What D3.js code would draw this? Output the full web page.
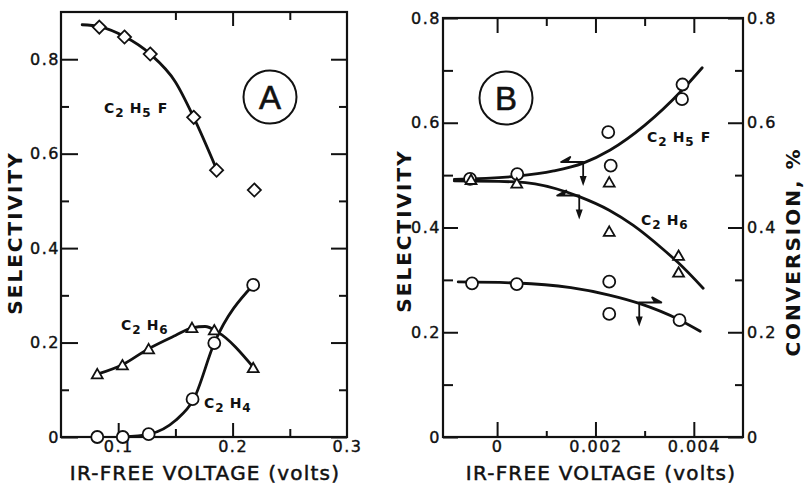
<!DOCTYPE html>
<html>
<head>
<meta charset="utf-8">
<script src="https://cdn.jsdelivr.net/npm/d3@7"></script>
<style>
  body { margin: 0; background: #fff; }
  svg { display: block; font-family: "DejaVu Sans", "Liberation Sans", sans-serif; }
  .axis path.domain { display: none; }
</style>
</head>
<body>
<svg id="chart" width="805" height="487"></svg>
<script>
// ---------- Panel A data (x = IR-free voltage, volts) ----------
const aFluoroX = [0.0835, 0.1055, 0.128, 0.166, 0.186, 0.219];
const aFluoroY = [0.868, 0.847, 0.811, 0.677, 0.565, 0.523];
const aEthaneX = [0.0817, 0.1037, 0.1266, 0.1645, 0.184, 0.218];
const aEthaneY = [0.133, 0.152, 0.186, 0.231, 0.226, 0.146];
const aEtheneX = [0.0817, 0.104, 0.1266, 0.165, 0.184, 0.218];
const aEtheneY = [0.0, 0.0, 0.006, 0.08, 0.199, 0.322];
// smooth fitted curves, as drawn on the figure
const aFluoroCurve = [[0.0685, 0.873], [0.0835, 0.869], [0.1055, 0.848], [0.128, 0.811], [0.150, 0.752], [0.166, 0.677], [0.186, 0.567]];
const aEthaneCurve = [[0.0817, 0.133], [0.1037, 0.153], [0.1266, 0.187], [0.150, 0.215], [0.1645, 0.231], [0.176, 0.234], [0.187, 0.222], [0.218, 0.148]];
const aEtheneCurve = [[0.104, 0.0], [0.127, 0.006], [0.150, 0.035], [0.166, 0.08], [0.184, 0.199], [0.218, 0.322]];

// ---------- Panel B data ----------
const bFluoroX = [-0.00055, 0.00041, 0.00226, 0.00231, 0.00377, 0.00376];
const bFluoroY = [0.493, 0.502, 0.582, 0.518, 0.673, 0.645];
const bEthaneX = [-0.00053, 0.0004, 0.00228, 0.00228, 0.00369, 0.00369];
const bEthaneY = [0.491, 0.484, 0.486, 0.392, 0.346, 0.314];
const bConvX = [-0.00051, 0.0004, 0.00228, 0.00228, 0.00371];
const bConvY = [0.2935, 0.292, 0.2966, 0.235, 0.223];
const bFluoroCurve = [[-0.00087, 0.492], [0.0004, 0.498], [0.00115, 0.508], [0.00175, 0.523], [0.0023, 0.548], [0.003, 0.595], [0.00376, 0.662], [0.00417, 0.705]];
const bEthaneCurve = [[-0.00087, 0.489], [0.0004, 0.487], [0.0012, 0.474], [0.00167, 0.459], [0.00228, 0.433], [0.00277, 0.404], [0.00338, 0.358], [0.00368, 0.333], [0.00419, 0.284]];
const bConvCurve = [[-0.00079, 0.296], [0.0004, 0.294], [0.0015, 0.285], [0.00228, 0.271], [0.00289, 0.255], [0.0037, 0.224], [0.00413, 0.202]];
// arrows that tell which axis a curve belongs to
const bArrows = [
  {x: 0.00175, y: 0.523, dir: 'left'},
  {x: 0.00167, y: 0.459, dir: 'left'},
  {x: 0.00289, y: 0.255, dir: 'right'}
];

// ---------- ticks ----------
const aYMajor = [0, 0.2, 0.4, 0.6, 0.8];
const aYMinor = [0.1, 0.3, 0.5, 0.7];
const aXMajor = [0.1, 0.2];
const aXMinor = [0.15, 0.25];
const aXLabels = [0.1, 0.2, 0.3];
const bYMajor = [0, 0.2, 0.4, 0.6, 0.8];
const bYMinor = [0.1, 0.3, 0.5, 0.7];
const bXMajor = [0, 0.002, 0.004];
const bXMinor = [0.001, 0.003];

const svg = d3.select('#chart');
const fmtY = d => d === 0 ? '0' : d3.format('.1f')(d);

// Panel frames
const A = {left: 61, right: 347, top: 12, bottom: 437};
const B = {left: 443, right: 743, top: 18, bottom: 437};

const xA = d3.scaleLinear().domain([0.05, 0.3]).range([A.left, A.right]);
const yA = d3.scaleLinear().domain([0, 0.9]).range([A.bottom, A.top]);
const xB = d3.scaleLinear().domain([-0.0011, 0.005]).range([B.left, B.right]);
const yB = d3.scaleLinear().domain([0, 0.8]).range([B.bottom, B.top]);

function addAxis(axis, tx, ty) {
  const g = svg.append('g').attr('class', 'axis')
    .attr('transform', `translate(${tx},${ty})`)
    .call(axis)
    .attr('font-family', 'DejaVu Sans, sans-serif')
    .attr('font-size', 16);
  g.selectAll('.tick line').attr('stroke', '#111').attr('stroke-width', 2);
  g.selectAll('.tick text').attr('fill', '#111').attr('stroke', '#111')
    .attr('stroke-width', 0.4).attr('letter-spacing', 1.5);
  return g;
}

// ----- Panel A axes -----
addAxis(d3.axisLeft(yA).tickValues(aYMajor).tickSize(-17).tickPadding(1).tickFormat(fmtY), A.left, 0);
addAxis(d3.axisLeft(yA).tickValues(aYMinor).tickSize(-8).tickFormat(''), A.left, 0);
addAxis(d3.axisRight(yA).tickValues(aYMajor).tickSize(-16).tickFormat(''), A.right, 0);
addAxis(d3.axisRight(yA).tickValues(aYMinor).tickSize(-8).tickFormat(''), A.right, 0);
addAxis(d3.axisBottom(xA).tickValues(aXMajor).tickSize(-14).tickFormat(''), 0, A.bottom);
addAxis(d3.axisBottom(xA).tickValues(aXMinor).tickSize(-8).tickFormat(''), 0, A.bottom);
addAxis(d3.axisBottom(xA).tickValues(aXLabels).tickSize(0).tickPadding(4).tickFormat(d3.format('.1f')), 0, A.bottom);
addAxis(d3.axisTop(xA).tickValues([0.2]).tickSize(-14).tickFormat(''), 0, A.top);
addAxis(d3.axisTop(xA).tickValues(aXMinor).tickSize(-8).tickFormat(''), 0, A.top);

// ----- Panel B axes -----
addAxis(d3.axisLeft(yB).tickValues(bYMajor).tickSize(-15).tickPadding(2).tickFormat(fmtY), B.left, 0);
addAxis(d3.axisLeft(yB).tickValues(bYMinor).tickSize(-10).tickFormat(''), B.left, 0);
addAxis(d3.axisRight(yB).tickValues(bYMajor).tickSize(-15).tickPadding(3).tickFormat(fmtY), B.right, 0)
  .selectAll('text').attr('x', 4);
addAxis(d3.axisRight(yB).tickValues(bYMinor).tickSize(-8).tickFormat(''), B.right, 0);
addAxis(d3.axisBottom(xB).tickValues(bXMajor).tickSize(-15).tickPadding(4).tickFormat(d => d === 0 ? '0' : d3.format('.3f')(d)), 0, B.bottom);
addAxis(d3.axisBottom(xB).tickValues(bXMinor).tickSize(-6).tickFormat(''), 0, B.bottom);
addAxis(d3.axisTop(xB).tickValues(bXMajor).tickSize(-15).tickFormat(''), 0, B.top);
addAxis(d3.axisTop(xB).tickValues(bXMinor).tickSize(-8).tickFormat(''), 0, B.top);

// frames
[A, B].forEach(p => {
  svg.append('rect')
    .attr('x', p.left).attr('y', p.top)
    .attr('width', p.right - p.left).attr('height', p.bottom - p.top)
    .attr('fill', 'none').attr('stroke', '#111').attr('stroke-width', 2.2);
});

// ----- curves -----
function drawCurve(pts, xs, ys) {
  const line = d3.line().x(d => xs(d[0])).y(d => ys(d[1])).curve(d3.curveMonotoneX);
  svg.append('path').datum(pts)
    .attr('d', line)
    .attr('fill', 'none').attr('stroke', '#111').attr('stroke-width', 2.8)
    .attr('stroke-linecap', 'round');
}
drawCurve(aFluoroCurve, xA, yA);
drawCurve(aEthaneCurve, xA, yA);
drawCurve(aEtheneCurve, xA, yA);
drawCurve(bFluoroCurve, xB, yB);
drawCurve(bEthaneCurve, xB, yB);
drawCurve(bConvCurve, xB, yB);

// ----- markers -----
const diamond = d3.symbol().type(d3.symbolDiamond2).size(110);
const triangle = d3.symbol().type(d3.symbolTriangle2).size(85);

function drawMarkers(xv, yv, xs, ys, kind) {
  const data = xv.map((x, i) => [x, yv[i]]);
  const g = svg.append('g');
  if (kind === 'circle') {
    g.selectAll('circle').data(data).join('circle')
      .attr('cx', d => xs(d[0])).attr('cy', d => ys(d[1])).attr('r', 6)
      .attr('fill', '#fff').attr('stroke', '#111').attr('stroke-width', 1.8);
  } else {
    g.selectAll('path').data(data).join('path')
      .attr('transform', d => `translate(${xs(d[0])},${ys(d[1]) + (kind === 'triangle' ? 1 : 0)})`)
      .attr('d', kind === 'diamond' ? diamond : triangle)
      .attr('fill', '#fff').attr('stroke', '#111').attr('stroke-width', 1.8);
  }
}
drawMarkers(aFluoroX, aFluoroY, xA, yA, 'diamond');
drawMarkers(aEthaneX, aEthaneY, xA, yA, 'triangle');
drawMarkers(aEtheneX, aEtheneY, xA, yA, 'circle');
drawMarkers(bFluoroX, bFluoroY, xB, yB, 'circle');
drawMarkers(bEthaneX, bEthaneY, xB, yB, 'triangle');
drawMarkers(bConvX, bConvY, xB, yB, 'circle');

// ----- arrows in panel B -----
bArrows.forEach(a => {
  const px = xB(a.x), py = yB(a.y);
  const s = a.dir === 'left' ? -1 : 1;
  const tip = px + s * 22;
  // half-headed arrow pointing to the axis the curve is read on
  svg.append('path')
    .attr('d', `M${px},${py - 1} L${tip},${py - 1} L${tip - s * 9},${py - 6} L${tip - s * 6},${py - 1} Z`)
    .attr('fill', '#111').attr('stroke', '#111').attr('stroke-width', 2)
    .attr('stroke-linejoin', 'round');
  // downward arrow
  svg.append('line')
    .attr('x1', px).attr('y1', py)
    .attr('x2', px).attr('y2', py + 16)
    .attr('stroke', '#111').attr('stroke-width', 1.8);
  svg.append('path')
    .attr('d', `M${px - 3.5},${py + 13} L${px + 3.5},${py + 13} L${px},${py + 23} Z`)
    .attr('fill', '#111');
});

// ----- chemical labels -----
function chem(x, y, parts) {
  const t = svg.append('text').attr('x', x).attr('y', y)
    .attr('font-size', 14).attr('font-weight', 'bold').attr('fill', '#111');
  parts.forEach(p => {
    t.append('tspan').text(p[0])
      .attr('dy', p[1])
      .attr('font-size', p[2] ? 12 : 14)
      .attr('dx', p[3] || 0);
  });
}
// [text, dy, isSub, dx]
chem(104, 113, [['C', 0], ['2', 4, true, 1], ['H', -4, false, 6], ['5', 4, true, 1], ['F', -4, false, 7]]);
chem(121, 330, [['C', 0], ['2', 4, true, 1], ['H', -4, false, 6], ['6', 4, true, 1]]);
chem(204, 408, [['C', 0], ['2', 4, true, 1], ['H', -4, false, 6], ['4', 4, true, 1]]);
chem(647, 142, [['C', 0], ['2', 4, true, 1], ['H', -4, false, 6], ['5', 4, true, 1], ['F', -4, false, 7]]);
chem(641, 225, [['C', 0], ['2', 4, true, 1], ['H', -4, false, 6], ['6', 4, true, 1]]);

// panel letters
[[270, 97, 'A'], [506, 98, 'B']].forEach(d => {
  svg.append('circle').attr('cx', d[0]).attr('cy', d[1]).attr('r', 26.5)
    .attr('fill', 'none').attr('stroke', '#111').attr('stroke-width', 2);
  svg.append('text').attr('x', d[0]).attr('y', d[1] + 12)
    .attr('text-anchor', 'middle').attr('font-size', 33)
    .attr('font-family', 'Liberation Sans, Arial, sans-serif')
    .attr('fill', '#111').attr('stroke', '#111').attr('stroke-width', 0.6).text(d[2]);
});

// axis titles
function yTitle(x, y, txt) {
  svg.append('text').attr('transform', `translate(${x},${y}) rotate(-90)`)
    .attr('text-anchor', 'middle').attr('font-size', 20).attr('font-weight', 'bold')
    .attr('letter-spacing', 2).attr('fill', '#111').text(txt);
}
yTitle(22, 233, 'SELECTIVITY');
yTitle(411, 231, 'SELECTIVITY');
yTitle(800, 252, 'CONVERSION, %');

function xTitle(x, txt) {
  svg.append('text').attr('x', x).attr('y', 480)
    .attr('text-anchor', 'middle').attr('font-size', 20)
    .attr('letter-spacing', 1.2).attr('fill', '#111')
    .attr('stroke', '#111').attr('stroke-width', 0.5).text(txt);
}
xTitle(205, 'IR-FREE  VOLTAGE (volts)');
xTitle(601, 'IR-FREE VOLTAGE (volts)');
</script>
</body>
</html>
